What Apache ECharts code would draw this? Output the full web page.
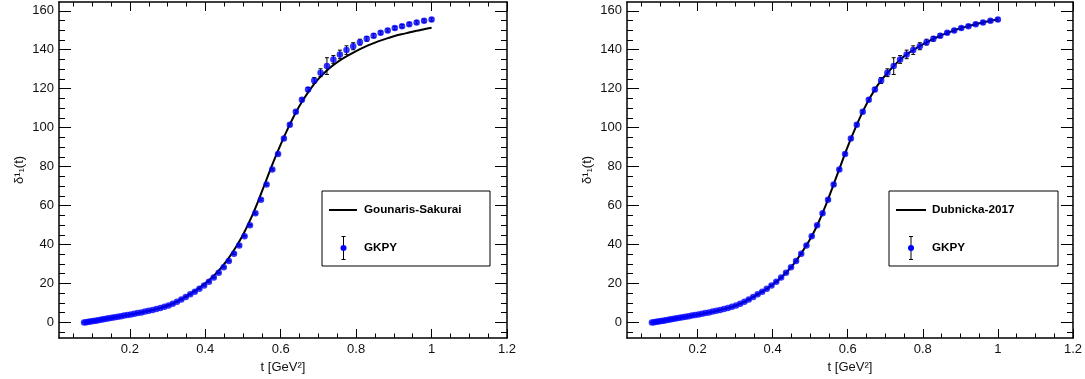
<!DOCTYPE html>
<html>
<head>
<meta charset="utf-8">
<style>
  html, body { margin: 0; padding: 0; background: #fff; }
  #chart { width: 1085px; height: 379px; }
</style>
<script src="https://cdn.jsdelivr.net/npm/echarts@6/dist/echarts.min.js"></script>
</head>
<body>
<div id="chart"></div>
<script>
// GKPY P-wave phase shift points (t in GeV^2, delta in degrees)
const gkpyT = [
  0.0784, 0.0841, 0.09, 0.0961, 0.1024, 0.1089, 0.1156, 0.1225, 0.1296, 0.1369,
  0.1444, 0.1521, 0.16, 0.1681, 0.1764, 0.1849, 0.1936, 0.2025, 0.2116, 0.2209,
  0.2304, 0.2401, 0.25, 0.2601, 0.2704, 0.2809, 0.2916, 0.3025, 0.3136, 0.3249,
  0.3364, 0.3481, 0.36, 0.3721, 0.3844, 0.3969, 0.4096, 0.4225, 0.4356, 0.4489,
  0.4624, 0.4761, 0.49, 0.5041, 0.5184, 0.5329, 0.5476, 0.5625, 0.5776, 0.5929,
  0.6084, 0.6241, 0.64, 0.6561, 0.6724, 0.6889, 0.7056, 0.7225, 0.7396, 0.7569,
  0.7744, 0.7921, 0.81, 0.8281, 0.8464, 0.8649, 0.8836, 0.9025, 0.9216, 0.9409,
  0.9604, 0.9801, 1.0
];
const gkpyDelta = [
  0.0, 0.15, 0.3, 0.5, 0.7, 0.9, 1.1, 1.35, 1.6, 1.85,
  2.1, 2.35, 2.6, 2.9, 3.2, 3.5, 3.8, 4.1, 4.45, 4.8,
  5.15, 5.55, 5.95, 6.4, 6.85, 7.4, 8.0, 8.7, 9.6, 10.6,
  11.8, 13.1, 14.4, 15.8, 17.3, 19.0, 20.9, 23.0, 25.5, 28.3,
  31.5, 35.3, 39.5, 44.3, 49.9, 56.0, 63.0, 70.8, 78.5, 86.5,
  94.4, 101.5, 108.2, 114.3, 119.6, 124.2, 128.2, 131.6, 135.0, 137.6,
  139.8, 141.8, 143.9, 145.6, 147.2, 148.7, 149.9, 151.1, 152.1, 153.1,
  154.0, 154.9, 155.5
];
const gkpyErr = [
  0.1, 0.1, 0.1, 0.1, 0.1, 0.1, 0.1, 0.1, 0.1, 0.1,
  0.1, 0.1, 0.1, 0.1, 0.1, 0.1, 0.1, 0.1, 0.1, 0.1,
  0.2, 0.2, 0.2, 0.2, 0.2, 0.2, 0.2, 0.2, 0.2, 0.2,
  0.3, 0.3, 0.3, 0.3, 0.3, 0.3, 0.3, 0.3, 0.3, 0.3,
  0.4, 0.4, 0.4, 0.4, 0.4, 0.5, 0.5, 0.5, 0.5, 0.5,
  0.6, 0.6, 0.7, 0.8, 1.0, 1.5, 2.0, 4.3, 2.0, 2.2,
  2.2, 1.8, 1.5, 1.2, 1.0, 0.8, 0.8, 0.8, 0.8, 0.8,
  0.8, 0.8, 0.8
];

// model curves sampled on a common t grid
const curveT = [
  0.08, 0.10, 0.12, 0.14, 0.16, 0.18, 0.20, 0.22, 0.24, 0.26,
  0.28, 0.30, 0.32, 0.34, 0.36, 0.38, 0.40, 0.42, 0.44, 0.46,
  0.48, 0.50, 0.52, 0.54, 0.56, 0.58, 0.60, 0.62, 0.64, 0.66,
  0.68, 0.70, 0.72, 0.74, 0.76, 0.78, 0.80, 0.82, 0.84, 0.86,
  0.88, 0.90, 0.92, 0.94, 0.96, 0.98, 1.00
];
const gsDelta = [
  0.05, 0.65, 1.25, 1.95, 2.6, 3.3, 4.0, 4.75, 5.55, 6.4,
  7.4, 8.7, 10.3, 12.4, 14.7, 17.2, 20.1, 23.5, 27.6, 32.5,
  38.3, 45.0, 53.0, 62.2, 72.2, 82.2, 91.4, 100.0, 107.8, 114.4,
  120.2, 125.0, 129.0, 132.2, 134.9, 137.2, 139.3, 141.2, 142.9, 144.4,
  145.7, 146.9, 147.9, 148.8, 149.7, 150.5, 151.3
];
const dubDelta = [
  0.05, 0.65, 1.25, 1.95, 2.6, 3.3, 4.0, 4.75, 5.55, 6.4,
  7.35, 8.6, 10.2, 12.2, 14.4, 16.7, 19.5, 22.6, 26.4, 31.0,
  36.6, 42.8, 50.4, 59.4, 69.6, 80.0, 90.3, 99.6, 108.2, 115.6,
  121.8, 126.8, 131.1, 135.0, 138.0, 140.5, 142.7, 144.8, 146.6, 148.3,
  149.7, 151.0, 152.1, 153.1, 154.0, 154.9, 155.5
];

const modelNames = ['Gounaris-Sakurai', 'Dubnicka-2017'];
const dataName = 'GKPY';

// axis ticks
const xMajorTicks = [0.2, 0.4, 0.6, 0.8, 1, 1.2];
const xMinorTicks = [0.05, 0.1, 0.15, 0.25, 0.3, 0.35, 0.45, 0.5, 0.55, 0.65, 0.7, 0.75,
  0.85, 0.9, 0.95, 1.05, 1.1, 1.15];
const yMajorTicks = [0, 20, 40, 60, 80, 100, 120, 140, 160];
const yMinorTicks = [-5, 5, 10, 15, 25, 30, 35, 45, 50, 55, 65, 70, 75, 85, 90, 95,
  105, 110, 115, 125, 130, 135, 145, 150, 155];

const X_MIN = 0.012, X_MAX = 1.2;
const Y_MIN = -8, Y_MAX = 164.5;
const FONT = '"Liberation Sans", Arial, sans-serif';

const chart = echarts.init(document.getElementById('chart'));

const frameLine = { show: true, onZero: false, lineStyle: { color: '#000', width: 1.5 } };
const noLine = { show: false, onZero: false };
const tickStyle = { color: '#000', width: 1 };

// ROOT frame: major + minor ticks on all four sides, each set on its own axis
function xAxes(gi) {
  const base = { gridIndex: gi, type: 'value', min: X_MIN, max: X_MAX, splitLine: { show: false } };
  return [
    Object.assign({}, base, {
      position: 'bottom', axisLine: frameLine,
      axisTick: { show: true, inside: true, length: 9, customValues: xMajorTicks, lineStyle: tickStyle },
      axisLabel: { customValues: xMajorTicks, color: '#111', fontSize: 13, fontFamily: FONT, margin: 5 },
      name: 't [GeV²]', nameLocation: 'middle', nameGap: 17,
      nameTextStyle: { color: '#111', fontSize: 13, fontFamily: FONT }
    }),
    Object.assign({}, base, {
      position: 'bottom', axisLine: noLine,
      axisTick: { show: true, inside: true, length: 4.5, customValues: xMinorTicks, lineStyle: tickStyle },
      axisLabel: { show: false }
    }),
    Object.assign({}, base, {
      position: 'top', axisLine: frameLine,
      axisTick: { show: true, inside: true, length: 9, customValues: xMajorTicks, lineStyle: tickStyle },
      axisLabel: { show: false }
    }),
    Object.assign({}, base, {
      position: 'top', axisLine: noLine,
      axisTick: { show: true, inside: true, length: 4.5, customValues: xMinorTicks, lineStyle: tickStyle },
      axisLabel: { show: false }
    })
  ];
}

function yAxes(gi) {
  const base = { gridIndex: gi, type: 'value', min: Y_MIN, max: Y_MAX, splitLine: { show: false } };
  return [
    Object.assign({}, base, {
      position: 'left', axisLine: frameLine,
      axisTick: { show: true, inside: true, length: 12, customValues: yMajorTicks, lineStyle: tickStyle },
      axisLabel: { customValues: yMajorTicks, color: '#111', fontSize: 13, fontFamily: FONT, margin: 5 },
      name: 'δ¹₁(t)', nameLocation: 'middle', nameGap: 33,
      nameTextStyle: { color: '#111', fontSize: 13, fontFamily: FONT }
    }),
    Object.assign({}, base, {
      position: 'left', axisLine: noLine,
      axisTick: { show: true, inside: true, length: 6, customValues: yMinorTicks, lineStyle: tickStyle },
      axisLabel: { show: false }
    }),
    Object.assign({}, base, {
      position: 'right', axisLine: frameLine,
      axisTick: { show: true, inside: true, length: 12, customValues: yMajorTicks, lineStyle: tickStyle },
      axisLabel: { show: false }
    }),
    Object.assign({}, base, {
      position: 'right', axisLine: noLine,
      axisTick: { show: true, inside: true, length: 6, customValues: yMinorTicks, lineStyle: tickStyle },
      axisLabel: { show: false }
    })
  ];
}

const pointData = gkpyT.map((t, i) => [t, gkpyDelta[i], gkpyErr[i]]);

function errorBars(params, api) {
  const x = api.value(0), y = api.value(1), e = api.value(2);
  const hi = api.coord([x, y + e]);
  const lo = api.coord([x, y - e]);
  const cap = 2;
  const st = { stroke: '#000', lineWidth: 1 };
  return {
    type: 'group',
    children: [
      { type: 'line', shape: { x1: hi[0], y1: hi[1], x2: lo[0], y2: lo[1] }, style: st },
      { type: 'line', shape: { x1: hi[0] - cap, y1: hi[1], x2: hi[0] + cap, y2: hi[1] }, style: st },
      { type: 'line', shape: { x1: lo[0] - cap, y1: lo[1], x2: lo[0] + cap, y2: lo[1] }, style: st }
    ]
  };
}

function panelSeries(p, curve, name) {
  const ax = 4 * p;
  return [
    {
      name: name, type: 'line', xAxisIndex: ax, yAxisIndex: ax,
      data: curveT.map((t, i) => [t, curve[i]]),
      showSymbol: false, smooth: 0.3,
      lineStyle: { color: '#000', width: 2 }, z: 2
    },
    {
      name: dataName + ' err', type: 'custom', xAxisIndex: ax, yAxisIndex: ax,
      data: pointData, renderItem: errorBars, encode: { x: 0, y: 1 }, z: 3
    },
    {
      name: dataName, type: 'scatter', xAxisIndex: ax, yAxisIndex: ax,
      data: pointData, symbolSize: 6.5,
      itemStyle: { color: '#0000ff' }, z: 4
    }
  ];
}

// ROOT style legend boxes
function legendBox(x0, y0, w, h, lineX1, lineX2, markX, textX, label) {
  const txt = { fill: '#000', font: 'bold 11.7px ' + FONT, textVerticalAlign: 'middle' };
  const y1 = y0 + 19, y2 = y0 + 57;
  return [
    { type: 'rect', shape: { x: x0, y: y0, width: w, height: h }, style: { fill: '#fff', stroke: '#000', lineWidth: 1 }, z: 10 },
    { type: 'line', shape: { x1: lineX1, y1: y1, x2: lineX2, y2: y1 }, style: { stroke: '#000', lineWidth: 2 }, z: 11 },
    { type: 'text', x: textX, y: y1, style: Object.assign({ text: label }, txt), z: 11 },
    { type: 'line', shape: { x1: markX, y1: y2 - 11.5, x2: markX, y2: y2 + 11.5 }, style: { stroke: '#000', lineWidth: 1 }, z: 11 },
    { type: 'line', shape: { x1: markX - 2, y1: y2 - 11.5, x2: markX + 2, y2: y2 - 11.5 }, style: { stroke: '#000', lineWidth: 1 }, z: 11 },
    { type: 'line', shape: { x1: markX - 2, y1: y2 + 11.5, x2: markX + 2, y2: y2 + 11.5 }, style: { stroke: '#000', lineWidth: 1 }, z: 11 },
    { type: 'circle', shape: { cx: markX, cy: y2, r: 3 }, style: { fill: '#0000ff' }, z: 12 },
    { type: 'text', x: textX, y: y2, style: Object.assign({ text: dataName }, txt), z: 11 }
  ];
}

const option = {
  animation: false,
  backgroundColor: '#fff',
  grid: [
    { left: 59, top: 2, width: 448, height: 336 },
    { left: 627, top: 2, width: 448, height: 336 }
  ],
  xAxis: xAxes(0).concat(xAxes(1)),
  yAxis: yAxes(0).concat(yAxes(1)),
  series: panelSeries(0, gsDelta, modelNames[0]).concat(panelSeries(1, dubDelta, modelNames[1])),
  graphic: legendBox(322, 191, 168, 75, 329, 357, 343.5, 364, modelNames[0])
    .concat(legendBox(889, 191, 169, 75, 896, 926, 911, 932, modelNames[1]))
};

chart.setOption(option);
</script>
</body>
</html>
